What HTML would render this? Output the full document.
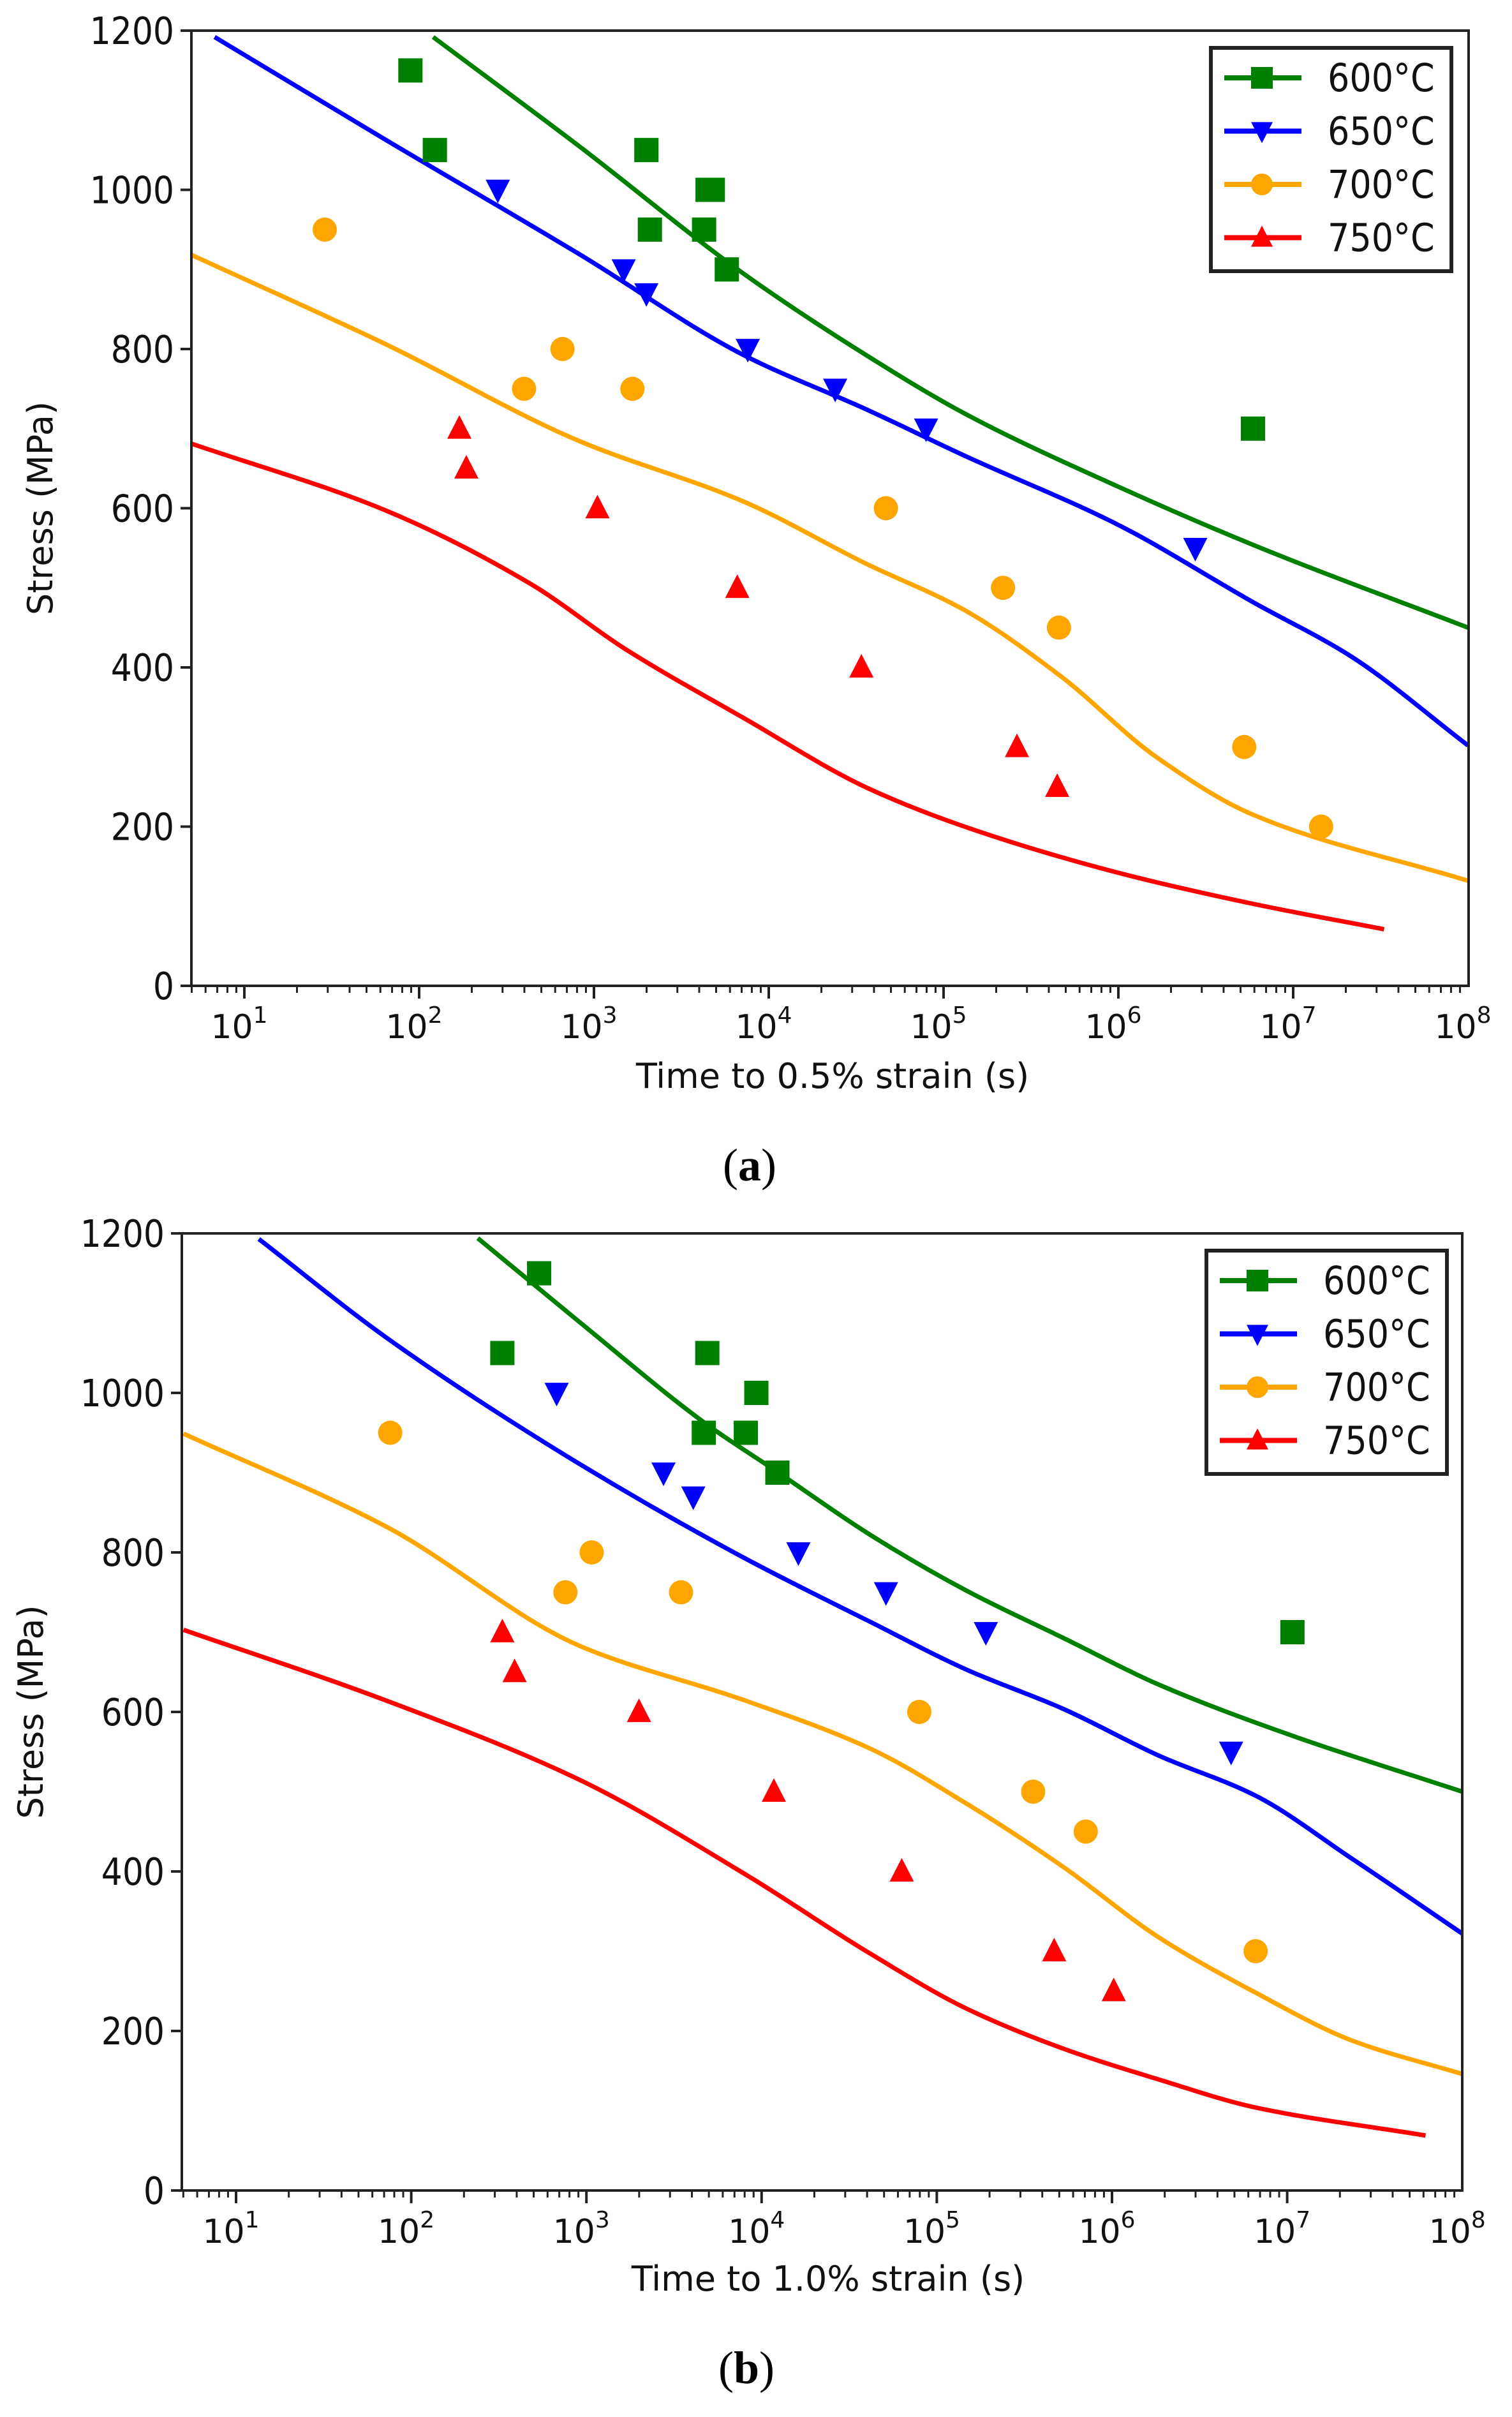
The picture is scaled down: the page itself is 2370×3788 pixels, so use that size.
<!DOCTYPE html>
<html><head><meta charset="utf-8"><title>Creep strain time curves</title>
<style>html,body{margin:0;padding:0;background:#fff}svg{display:block}</style></head>
<body>
<svg id="fig" xmlns="http://www.w3.org/2000/svg" width="2370" height="3788" viewBox="0 0 2370 3788" font-family="DejaVu Sans, Liberation Sans, sans-serif">
<rect x="0" y="0" width="2370" height="3788" fill="#fff"/>
</svg>
<script>
// ---------- data (log10 time, stress MPa) ----------
const temps = ["600°C","650°C","700°C","750°C"];
const colors = ["#008000","#0000ff","#ffa500","#ff0000"];
const markers = ["square","tri-down","circle","tri-up"];
const yTicks = [0,200,400,600,800,1000,1200];
const xDecades = [1,2,3,4,5,6,7,8];

// panel a: points
const a600x=[1.95,2.09,3.30,3.32,3.63,3.65,3.68,3.76,6.77];
const a600y=[1150,1050,1050,950,950,1000,1000,900,700];
const a650x=[2.45,3.17,3.30,3.88,4.38,4.90,6.44];
const a650y=[1000,900,870,800,750,700,550];
const a700x=[1.46,2.60,2.82,3.22,4.67,5.34,5.66,6.72,7.16];
const a700y=[950,750,800,750,600,500,450,300,200];
const a750x=[2.23,2.27,3.02,3.82,4.53,5.42,5.65];
const a750y=[700,650,600,500,400,300,250];
// panel a: fitted curves
const a600cx=[2.08,2.92,3.86,4.56,5.12,6.0,6.77,8];
const a600cy=[1192,1054,894,792,719,627,554,450];
const a650cx=[0.83,1.80,2.91,3.86,4.56,5.12,6.0,6.77,7.33,8];
const a650cy=[1192,1064,920,792,724,666,579,482,414,302];
const a700cx=[0.70,1.80,2.91,3.86,4.56,5.12,5.67,6.22,6.77,8];
const a700cy=[918,807,685,608,530,472,389,287,215,132];
const a750cx=[0.70,1.80,2.63,3.18,3.86,4.56,5.12,6.0,6.77,7.52];
const a750cy=[681,598,506,423,336,249,200,142,103,71];

// panel b: points
const b600x=[2.73,2.52,3.69,3.97,3.67,3.91,4.09,7.03];
const b600y=[1150,1050,1050,1000,950,950,900,700];
const b650x=[2.83,3.44,3.61,4.21,4.71,5.28,6.68];
const b650y=[1000,900,870,800,750,700,550];
const b700x=[1.88,2.88,3.03,3.54,4.90,5.55,5.85,6.82];
const b700y=[950,750,800,750,600,500,450,300];
const b750x=[2.52,2.59,3.30,4.07,4.80,5.67,6.01];
const b750y=[700,650,600,500,400,300,250];
// panel b: fitted curves
const b600cx=[2.38,2.96,3.69,4.09,4.62,5.17,5.72,6.27,6.98,8];
const b600cy=[1194,1089,960,901,822,752,693,634,574,500];
const b650cx=[1.13,1.86,2.96,3.91,4.62,5.17,5.72,6.27,6.82,7.37,8];
const b650cy=[1193,1069,911,792,713,653,604,545,495,416,322];
const b700cx=[0.70,1.86,2.96,3.91,4.62,5.17,5.72,6.27,6.82,7.37,8];
const b700cy=[949,832,683,614,554,485,406,317,248,188,146];
const b750cx=[0.70,1.86,2.96,3.91,4.62,5.17,5.72,6.27,6.82,7.79];
const b750cy=[703,614,515,396,297,228,178,139,104,69];

const NS="http://www.w3.org/2000/svg";
const svg=document.getElementById('fig');
function mk(tag,attrs,parent){const e=document.createElementNS(NS,tag);for(const k in attrs)e.setAttribute(k,attrs[k]);(parent||svg).appendChild(e);return e;}

// monotone cubic (Fritsch-Carlson) path
function smoothPath(pts){
  const n=pts.length;
  const dx=[],m=[];
  for(let i=0;i<n-1;i++){dx.push(pts[i+1][0]-pts[i][0]);m.push((pts[i+1][1]-pts[i][1])/dx[i]);}
  const t=new Array(n);
  t[0]=m[0];t[n-1]=m[n-2];
  for(let i=1;i<n-1;i++){
    if(m[i-1]*m[i]<=0)t[i]=0;
    else{const w1=2*dx[i]+dx[i-1],w2=dx[i]+2*dx[i-1];t[i]=(w1+w2)/(w1/m[i-1]+w2/m[i]);}
  }
  let d="M"+pts[0][0].toFixed(1)+","+pts[0][1].toFixed(1);
  for(let i=0;i<n-1;i++){
    const h=dx[i]/3;
    d+=" C"+(pts[i][0]+h).toFixed(1)+","+(pts[i][1]+t[i]*h).toFixed(1)+" "+(pts[i+1][0]-h).toFixed(1)+","+(pts[i+1][1]-t[i+1]*h).toFixed(1)+" "+pts[i+1][0].toFixed(1)+","+pts[i+1][1].toFixed(1);
  }
  return d;
}

function marker(g,type,cx,cy,color,s){
  let e;
  if(type==="square"){e=mk('rect',{x:cx-s/2,y:cy-s/2,width:s,height:s,fill:color},g);}
  else if(type==="circle"){e=mk('circle',{cx:cx,cy:cy,r:s/2,fill:color},g);}
  else if(type==="tri-down"){e=mk('polygon',{points:(cx-s/2)+","+(cy-s/2.4)+" "+(cx+s/2)+","+(cy-s/2.4)+" "+cx+","+(cy+s/1.8),fill:color},g);}
  else {e=mk('polygon',{points:(cx-s/2)+","+(cy+s/2.4)+" "+(cx+s/2)+","+(cy+s/2.4)+" "+cx+","+(cy-s/1.8),fill:color},g);}
  return e;
}

function panel(cfg){
  const g=mk('g',{});
  
  
  const L=cfg.left,R=cfg.right,T=cfg.top,B=cfg.bottom;
  const x=v=>cfg.x1+(v-1)*cfg.dec;
  const y=v=>B-(v/1200)*(B-T);
  const clip=mk('clipPath',{id:'clip'+cfg.id},g);
  mk('rect',{x:L,y:T,width:R-L,height:B-T},clip);
  const cg=mk('g',{'clip-path':'url(#clip'+cfg.id+')'},g);
  cfg.curves.forEach((c,i)=>{
    const pts=c[0].map((v,j)=>[x(v),y(c[1][j])]);
    const p=mk('path',{d:smoothPath(pts),fill:'none',stroke:colors[i],'stroke-width':7,'stroke-linecap':'butt'},cg);
    
    
  });
  cfg.points.forEach((s,i)=>{
    s[0].forEach((v,j)=>{
      const m=marker(cg,markers[i],x(v),y(s[1][j]),colors[i],cfg.ms);
      
      
    });
  });
  const fr=mk('rect',{x:L,y:T,width:R-L,height:B-T,fill:'none',stroke:'#222','stroke-width':4},g);
  
  
  yTicks.forEach(v=>{
    mk('line',{x1:L-17,x2:L,y1:y(v),y2:y(v),stroke:'#222','stroke-width':4},g);
    const t=mk('text',{x:0,y:0,'text-anchor':'end','font-size':52,fill:'#111',transform:'translate('+(L-27)+','+(y(v)+21)+') scale(1,1.13)'},g);
    t.textContent=v;
    
    
  });
  const lo=Math.log10(5),hi=8;
  for(let d=0;d<=7;d++){
    for(let k=1;k<=9;k++){
      const lv=d+Math.log10(k);
      if(lv<lo-1e-9||lv>hi+1e-9)continue;
      const major=(k===1);
      mk('line',{x1:x(lv),x2:x(lv),y1:B,y2:B+(major?20:11),stroke:'#222','stroke-width':major?4:3},g);
    }
  }
  xDecades.forEach(dd=>{
    const t=mk('text',{x:x(dd)-8,y:B+82,'text-anchor':'middle','font-size':52,fill:'#111'},g);
    t.textContent='10';
    const sp=mk('tspan',{dy:-24,'font-size':36},t);
    sp.textContent=dd;
    
    
  });
  const xt=mk('text',{x:cfg.xtX,y:cfg.xtY,'text-anchor':'middle','font-size':54,fill:'#111'},g);
  xt.textContent=cfg.xTitle;
  
  
  const yt=mk('text',{x:0,y:0,'text-anchor':'middle','font-size':54,fill:'#111',transform:'translate('+cfg.ytX+','+((T+B)/2)+') rotate(-90)'},g);
  yt.textContent='Stress (MPa)';
  
  
  const lg=mk('g',{},g);
  
  
  const lb=cfg.legend;
  mk('rect',{x:lb.x,y:lb.y,width:lb.w,height:lb.h,fill:'#fff',stroke:'#222','stroke-width':6},lg);
  temps.forEach((tname,i)=>{
    const ry=lb.y+47+i*83.5;
    const e=mk('g',{},lg);
    
    
    mk('line',{x1:lb.x+21,x2:lb.x+142,y1:ry,y2:ry,stroke:colors[i],'stroke-width':8},e);
    marker(e,markers[i],lb.x+80,ry,colors[i],34);
    const t=mk('text',{x:0,y:0,'font-size':54,fill:'#111',transform:'translate('+(lb.x+183)+','+(ry+21)+') scale(1,1.13)'},e);
    t.textContent=tname;
  });
  const cap=mk('text',{x:cfg.capX,y:cfg.capY,'text-anchor':'middle','font-size':72,'font-family':'Liberation Serif, serif',fill:'#000'},g);
  
  
  cap.appendChild(document.createTextNode('('));
  const bt=mk('tspan',{'font-weight':'bold'},cap);bt.textContent=cfg.id;
  cap.appendChild(document.createTextNode(')'));
}

panel({id:'a',left:300,right:2302,top:48,bottom:1545,x1:383,dec:274,ms:38,
  xTitle:'Time to 0.5% strain (s)',xtX:1305,xtY:1705,ytX:82,capX:1175,capY:1850,
  legend:{x:1898,y:75,w:377,h:350},
  curves:[[a600cx,a600cy],[a650cx,a650cy],[a700cx,a700cy],[a750cx,a750cy]],
  points:[[a600x,a600y],[a650x,a650y],[a700x,a700y],[a750x,a750y]]});
panel({id:'b',left:285,right:2292,top:1933,bottom:3433,x1:370,dec:274.6,ms:38,
  xTitle:'Time to 1.0% strain (s)',xtX:1298,xtY:3590,ytX:67,capX:1170,capY:3735,
  legend:{x:1891,y:1960,w:377,h:350},
  curves:[[b600cx,b600cy],[b650cx,b650cy],[b700cx,b700cy],[b750cx,b750cy]],
  points:[[b600x,b600y],[b650x,b650y],[b700x,b700y],[b750x,b750y]]});
</script>
</body></html>
